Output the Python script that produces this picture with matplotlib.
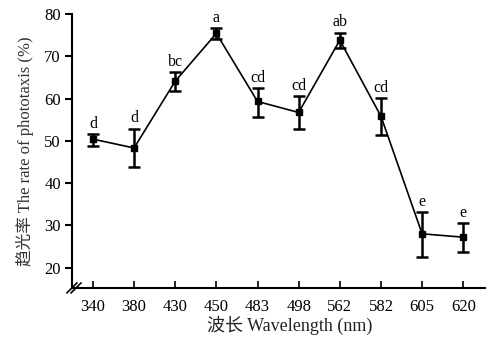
import matplotlib
matplotlib.use('Agg')
import matplotlib.pyplot as plt

plt.rcParams['font.family'] = ['Liberation Serif', 'Noto Sans CJK SC']

wavelengths = ['340', '380', '430', '450', '483', '498', '562', '582', '605', '620']
rate = [50.4, 48.3, 64.1, 75.4, 59.3, 56.7, 73.8, 55.8, 28.0, 27.2]
err_up = [1.1, 4.6, 2.2, 1.3, 3.2, 3.8, 1.8, 4.4, 5.2, 3.3]
err_down = [1.6, 4.6, 2.4, 1.3, 3.6, 4.0, 1.8, 4.5, 5.4, 3.4]
letters = ['d', 'd', 'bc', 'a', 'cd', 'cd', 'ab', 'cd', 'e', 'e']

x = list(range(len(wavelengths)))

fig = plt.figure(figsize=(4.96, 3.49), dpi=100)
ax = fig.add_axes([0.145, 0.175, 0.833, 0.785])

ax.plot(x, rate, '-', color='black', lw=1.2)
ax.errorbar(x, rate, yerr=[err_down, err_up], fmt='s', color='black',
            ms=5, ecolor='black', elinewidth=1.8, capsize=4, capthick=1.8)

for xi, yi, e, t in zip(x, rate, err_up, letters):
    ax.text(xi, yi + e + 0.5, t, ha='center', va='bottom', fontsize=11.5)

ax.set_xlim(-0.51, 9.53)
ax.set_ylim(15.2, 80)
ax.set_xticks(x)
ax.set_xticklabels(wavelengths)
ax.set_yticks([20, 30, 40, 50, 60, 70, 80])

ax.spines['top'].set_visible(False)
ax.spines['right'].set_visible(False)
for s in ['left', 'bottom']:
    ax.spines[s].set_linewidth(1.5)
ax.tick_params(axis='y', direction='out', length=5, width=1.5, labelsize=12, pad=3)
ax.tick_params(axis='x', direction='in', length=5, width=1.2, labelsize=12, pad=8)

# axis break mark at the corner
d = 0.012
kw = dict(transform=ax.transAxes, color='black', clip_on=False, lw=1.2)
ax.plot((-d, d), (-1.5 * d, 1.5 * d), **kw)
ax.plot((-d + 0.01, d + 0.01), (-1.5 * d, 1.5 * d), **kw)

ax.set_ylabel('趋光率 The rate of phototaxis (%)', fontsize=12, color='#333333', labelpad=7)
ax.set_xlabel('波长 Wavelength (nm)', fontsize=13, color='#222222')
ax.xaxis.set_label_coords(0.527, -0.102)

fig.savefig('out.png', dpi=100)
